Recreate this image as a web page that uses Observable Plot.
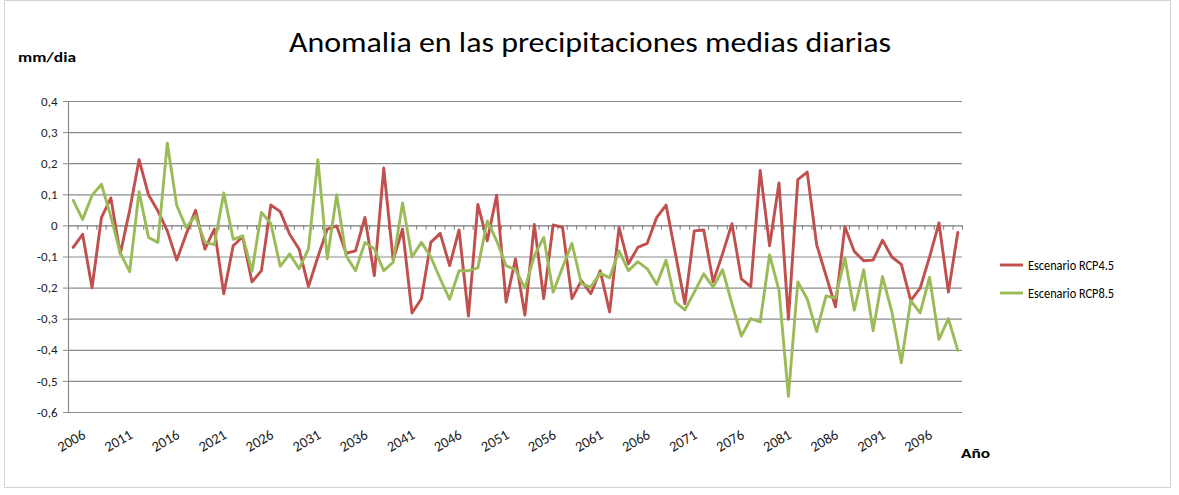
<!DOCTYPE html>
<html>
<head>
<meta charset="utf-8">
<script src="https://cdn.jsdelivr.net/npm/d3@7"></script>
<script src="https://cdn.jsdelivr.net/npm/@observablehq/plot@0.6"></script>
<style>
  body { margin: 0; background: #fff; }
  #chart { position: relative; width: 1179px; height: 495px; }
</style>
</head>
<body>
<div id="chart"></div>
<script>
const title = "Anomalia en las precipitaciones medias diarias";
const yUnit = "mm/dia";
const xUnit = "Año";
const seriesNames = ["Escenario RCP4.5", "Escenario RCP8.5"];
const seriesColors = ["#C0504D", "#9BBB59"];

const years = [
  2006,2007,2008,2009,2010,2011,2012,2013,2014,2015,2016,2017,2018,2019,2020,2021,2022,2023,2024,2025,
  2026,2027,2028,2029,2030,2031,2032,2033,2034,2035,2036,2037,2038,2039,2040,2041,2042,2043,2044,2045,
  2046,2047,2048,2049,2050,2051,2052,2053,2054,2055,2056,2057,2058,2059,2060,2061,2062,2063,2064,2065,
  2066,2067,2068,2069,2070,2071,2072,2073,2074,2075,2076,2077,2078,2079,2080,2081,2082,2083,2084,2085,
  2086,2087,2088,2089,2090,2091,2092,2093,2094,2095,2096,2097,2098,2099,2100
];

const rcp45 = [
  -0.069,-0.027,-0.199,0.027,0.090,-0.090,0.050,0.213,0.100,0.048,
  -0.016,-0.110,-0.027,0.050,-0.075,-0.010,-0.218,-0.064,-0.035,-0.180,
  -0.144,0.067,0.046,-0.027,-0.074,-0.195,-0.100,-0.010,0.000,-0.088,
  -0.080,0.027,-0.160,0.186,-0.110,-0.010,-0.280,-0.234,-0.053,-0.024,
  -0.128,-0.013,-0.290,0.069,-0.048,0.099,-0.245,-0.106,-0.287,0.005,
  -0.234,0.003,-0.005,-0.234,-0.176,-0.218,-0.144,-0.277,-0.005,-0.122,
  -0.069,-0.056,0.027,0.067,-0.090,-0.250,-0.016,-0.013,-0.180,-0.090,
  0.007,-0.170,-0.195,0.178,-0.064,0.138,-0.300,0.149,0.173,-0.060,
  -0.160,-0.260,-0.003,-0.082,-0.112,-0.110,-0.046,-0.100,-0.124,-0.240,
  -0.200,-0.100,0.010,-0.213,-0.021
];

const rcp85 = [
  0.082,0.021,0.098,0.134,0.030,-0.087,-0.147,0.110,-0.037,-0.053,
  0.266,0.066,-0.005,0.032,-0.053,-0.060,0.106,-0.043,-0.032,-0.146,
  0.043,0.008,-0.130,-0.090,-0.138,-0.074,0.213,-0.106,0.100,-0.096,
  -0.144,-0.053,-0.074,-0.144,-0.117,0.074,-0.100,-0.053,-0.100,-0.170,
  -0.236,-0.144,-0.144,-0.135,0.016,-0.048,-0.128,-0.141,-0.200,-0.096,
  -0.037,-0.213,-0.133,-0.056,-0.186,-0.197,-0.152,-0.167,-0.080,-0.144,
  -0.115,-0.138,-0.188,-0.110,-0.245,-0.270,-0.213,-0.154,-0.197,-0.141,
  -0.250,-0.354,-0.298,-0.309,-0.093,-0.207,-0.548,-0.180,-0.235,-0.340,
  -0.225,-0.232,-0.103,-0.271,-0.141,-0.337,-0.163,-0.277,-0.440,-0.240,
  -0.280,-0.165,-0.365,-0.298,-0.400
];

const yTicks = [0.4, 0.3, 0.2, 0.1, 0, -0.1, -0.2, -0.3, -0.4, -0.5, -0.6];
const xTickLabels = [2006,2011,2016,2021,2026,2031,2036,2041,2046,2051,2056,2061,2066,2071,2076,2081,2086,2091,2096];

const data = [];
years.forEach((yr, i) => {
  data.push({year: yr, value: rcp45[i], serie: seriesNames[0]});
});
years.forEach((yr, i) => {
  data.push({year: yr, value: rcp85[i], serie: seriesNames[1]});
});

const xMin = years[0] - 0.5, xMax = years[years.length - 1] + 0.5;
const catBounds = years.map(y => y - 0.5).concat([xMax]);
const fmt = v => v === 0 ? "0" : d3.format(".1f")(v).replace(".", ",").replace("−", "-");
const FONT = "Carlito, Calibri, 'Liberation Sans Narrow', 'Open Sans', sans-serif";
const GRID = "#8c8c8c";

const plot = Plot.plot({
  width: 1179,
  height: 495,
  marginLeft: 68,
  marginRight: 217,
  marginTop: 101,
  marginBottom: 83,
  style: {fontFamily: FONT, background: "transparent", overflow: "visible"},
  x: {domain: [xMin, xMax], axis: null},
  y: {domain: [-0.6, 0.4], axis: null},
  color: {domain: seriesNames, range: seriesColors},
  marks: [
    Plot.ruleY(yTicks.filter(d => d !== 0), {stroke: GRID, strokeWidth: 1.2}),
    Plot.ruleX([xMin], {stroke: GRID, strokeWidth: 1.2}),
    Plot.axisY({ticks: yTicks, tickSize: 5, tickPadding: 6, tickFormat: fmt, fontSize: 13, stroke: GRID, color: "#222", label: null}),
    Plot.ruleY([0], {stroke: "#7a7a7a", strokeWidth: 1.3}),
    Plot.ruleX(catBounds, {y1: 0, y2: -0.014, stroke: "#7a7a7a", strokeWidth: 1}),
    Plot.text(xTickLabels, {x: d => d, y: -0.6, text: d => String(d), rotate: -30, textAnchor: "end", dx: 11, dy: 21, fontSize: 14.5, fill: "#222"}),
    Plot.line(data, {x: "year", y: "value", z: "serie", stroke: "serie", strokeWidth: 2.9, strokeLinejoin: "round", strokeLinecap: "round"})
  ]
});

const svg = d3.select(plot);
// outer border
svg.insert("rect", ":first-child")
  .attr("x", 4.5).attr("y", 0.5).attr("width", 1166).attr("height", 487)
  .attr("fill", "#fff").attr("stroke", "#d4d4d4");

svg.append("text").attr("x", 590).attr("y", 52).attr("text-anchor", "middle")
  .attr("font-family", FONT).attr("font-size", 28).attr("fill", "#000")
  .attr("textLength", 602).attr("lengthAdjust", "spacingAndGlyphs")
  .text(title);

svg.append("text").attr("x", 18).attr("y", 62).attr("text-anchor", "start")
  .attr("font-family", FONT).attr("font-size", 14).attr("font-weight", "bold").attr("fill", "#000")
  .attr("textLength", 58).attr("lengthAdjust", "spacingAndGlyphs")
  .text(yUnit);

svg.append("text").attr("x", 961).attr("y", 458).attr("text-anchor", "start")
  .attr("font-family", FONT).attr("font-size", 14).attr("font-weight", "bold").attr("fill", "#000")
  .attr("textLength", 29).attr("lengthAdjust", "spacingAndGlyphs")
  .text(xUnit);

const legend = svg.append("g");
seriesNames.forEach((name, i) => {
  const yy = 265 + i * 28;
  legend.append("line").attr("x1", 1000).attr("x2", 1023).attr("y1", yy).attr("y2", yy)
    .attr("stroke", seriesColors[i]).attr("stroke-width", 2.9);
  legend.append("text").attr("x", 1028).attr("y", yy + 5).attr("text-anchor", "start")
    .attr("font-family", FONT).attr("font-size", 13.5).attr("fill", "#000")
    .attr("textLength", 86).attr("lengthAdjust", "spacingAndGlyphs")
    .text(name);
});

document.getElementById("chart").appendChild(plot);
</script>
</body>
</html>
